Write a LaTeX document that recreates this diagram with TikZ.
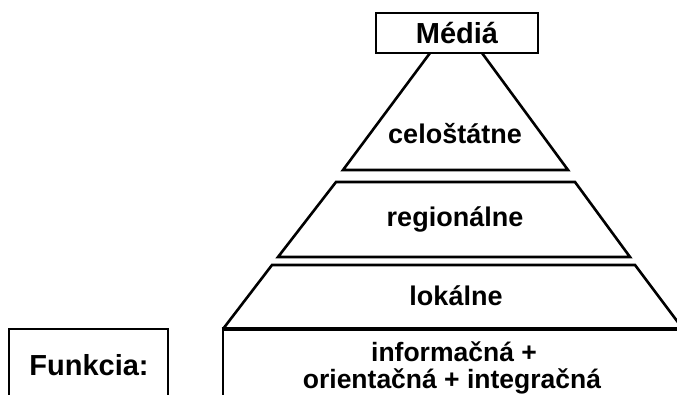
\documentclass[tikz,border=0pt]{standalone}
\usepackage{fontspec}
\setmainfont{Liberation Sans}
\begin{document}
\begin{tikzpicture}[x=1pt,y=-1pt,
  line/.style={line width=2.6pt,line join=miter},
  lbl/.style={font=\fontsize{27}{27}\selectfont\bfseries,inner sep=0pt,anchor=base},
  two/.style={font=\fontsize{26.5}{26.5}\selectfont\bfseries,inner sep=0pt,anchor=base},
  big/.style={font=\fontsize{29}{29}\selectfont\bfseries,inner sep=0pt,anchor=base}]
\useasboundingbox (0,0) rectangle (677,394);
\begin{scope}
\clip (0,0) rectangle (677,394);
% Media box
\draw[line] (376,13) rectangle (538,53);
\node[big] (media) at (457,43) {Médiá};
% national
\draw[line] (430,53) -- (343,170) -- (568,170) -- (482,53);
\node[lbl] (nat) at (455,143) {celoštátne};
% regional
\draw[line] (336,182) -- (575,182) -- (630,257) -- (278,257) -- cycle;
\node[lbl] (reg) at (455,226) {regionálne};
% local
\draw[line] (223,329) -- (272,265) -- (635,265) -- (683,329);
\node[lbl] (loc) at (456,305) {lokálne};
% bottom box
\draw[line] (223,410) -- (223,329);
\draw[line width=3.4pt] (221.7,329) -- (690,329);
\node[two] (fun1) at (454,361.5) {informačná +};
\node[two] (fun2) at (452,388) {orientačná + integračná};
% Funkcia box
\draw[line] (9,410) -- (9,329) -- (168,329) -- (168,410);
\node[big] (fk) at (89,375) {Funkcia:};
\end{scope}
\end{tikzpicture}
\end{document}
